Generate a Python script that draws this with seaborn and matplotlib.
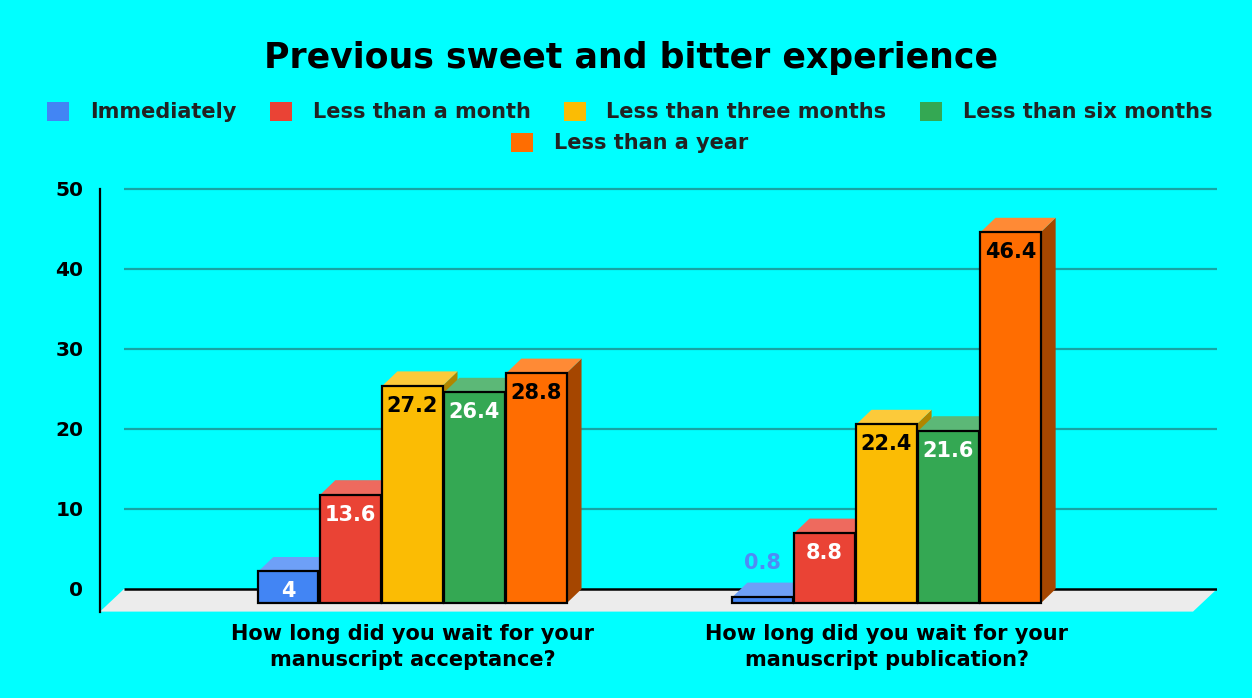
import numpy as np
import pandas as pd
import matplotlib.pyplot as plt
from matplotlib.patches import Patch, Polygon
import seaborn as sns

questions = ["How long did you wait for your\nmanuscript acceptance?",
             "How long did you wait for your\nmanuscript publication?"]
wait_times = ["Immediately", "Less than a month", "Less than three months",
              "Less than six months", "Less than a year"]
acceptance = [4, 13.6, 27.2, 26.4, 28.8]
publication = [0.8, 8.8, 22.4, 21.6, 46.4]
y_ticks = [0, 10, 20, 30, 40, 50]

colors = ["#4285f4", "#ea4335", "#fbbc04", "#34a853", "#ff6d01"]
top_colors = ["#6ea0f7", "#ee6a5e", "#fcca3a", "#5cb877", "#ff8a35"]
side_colors = ["#2a5cb0", "#a42e25", "#b08600", "#247538", "#a54600"]
label_colors = ["white", "white", "black", "white", "black"]

df = pd.DataFrame({
    "question": np.repeat(questions, len(wait_times)),
    "wait": wait_times * len(questions),
    "value": acceptance + publication,
})

BG = "#00ffff"
GRID = "#17a4a4"

sns.set_style("white")
plt.rcParams["font.family"] = ["DejaVu Sans"]
plt.rcParams["font.weight"] = "bold"

fig = plt.figure(figsize=(12.52, 6.98), dpi=100, facecolor=BG)
# axes box in pixels: left 100, right 1217, bottom 612, top 180
ax = fig.add_axes([100 / 1252, 86 / 698, 1117 / 1252, 432 / 698])
ax.set_facecolor(BG)

sns.barplot(data=df, x="question", y="value", hue="wait", hue_order=wait_times,
            palette=colors, saturation=1, width=0.654, gap=0.03, errorbar=None,
            edgecolor="black", linewidth=1.6, legend=False, ax=ax)

xlim = (-0.659, 1.697)
ylim = (-2.875, 51.125)
ax.set_xlim(*xlim)
ax.set_ylim(*ylim)

# depth of the fake 3d look, in data units
px_x = (xlim[1] - xlim[0]) / 1117
px_y = (ylim[1] - ylim[0]) / 432
dx = 15 * px_x
dy = 14.4 * px_y
back_left = xlim[0] + 24 * px_x

# back wall grid + floor
for v in y_ticks[1:]:
    ax.hlines(v, back_left, xlim[1], color=GRID, lw=1.6, zorder=0.5)
floor = Polygon([(xlim[0], ylim[0] + 0.05), (back_left, 0), (xlim[1], 0),
                 (xlim[1] - 24 * px_x, ylim[0] + 0.05)],
                closed=True, facecolor="#ececec", edgecolor="none", zorder=1)
ax.add_patch(floor)
ax.hlines(0, back_left, xlim[1], color="black", lw=1.8, zorder=1.2)

for i, cont in enumerate(ax.containers):
    for rect in cont:
        rect.set_y(rect.get_y() - dy)
        rect.set_zorder(2 + i * 0.1 + 0.05)
        x0 = rect.get_x()
        x1 = x0 + rect.get_width()
        yb = rect.get_y()
        yt = yb + rect.get_height()
        top = Polygon([(x0, yt), (x0 + dx, yt + dy), (x1 + dx, yt + dy), (x1, yt)],
                      closed=True, facecolor=top_colors[i], edgecolor="none",
                      zorder=2 + i * 0.1)
        side = Polygon([(x1, yb), (x1 + dx, yb + dy), (x1 + dx, yt + dy), (x1, yt)],
                       closed=True, facecolor=side_colors[i], edgecolor="none",
                       zorder=2 + i * 0.1)
        ax.add_patch(side)
        ax.add_patch(top)

        val = rect.get_height()
        xc = x0 + rect.get_width() / 2
        if val < 2:
            ax.annotate(f"{val:g}", (xc, yt), xytext=(0, 34), textcoords="offset pixels",
                        ha="center", va="center", fontsize=15, fontweight="bold",
                        color="#4f8bf5", zorder=5)
        else:
            ax.annotate(f"{val:g}", (xc, yt), xytext=(0, -20), textcoords="offset pixels",
                        ha="center", va="center", fontsize=15, fontweight="bold",
                        color=label_colors[i], zorder=5)

ax.set_yticks(y_ticks)
ax.set_xlabel("")
ax.set_ylabel("")
for s in ["top", "right", "bottom"]:
    ax.spines[s].set_visible(False)
ax.spines["left"].set_bounds(ylim[0], 50)
ax.spines["left"].set_color("black")
ax.spines["left"].set_linewidth(1.6)
ax.tick_params(axis="y", length=0, pad=12, labelsize=14.5, labelcolor="black")
ax.tick_params(axis="x", length=0, pad=9, labelsize=15, labelcolor="black")
for lab in ax.get_xticklabels() + ax.get_yticklabels():
    lab.set_fontweight("bold")
for lab in ax.get_xticklabels():
    lab.set_linespacing(1.35)

# legend in two rows, centered
handles = [Patch(facecolor=c, edgecolor="none", label=l) for c, l in zip(colors, wait_times)]
leg_kw = dict(loc="center", frameon=False, prop={"weight": "bold", "size": 15},
              labelcolor="#222222", handlelength=1.05, handleheight=1.05,
              handletextpad=1.0, columnspacing=1.6)
fig.legend(handles=handles[:4], ncol=4, bbox_to_anchor=(0.503, 1 - 112 / 698), **leg_kw)
fig.legend(handles=handles[4:], ncol=1, bbox_to_anchor=(0.503, 1 - 143 / 698), **leg_kw)

fig.text(0.504, 1 - 58 / 698, "Previous sweet and bitter experience",
         ha="center", va="center", fontsize=25, fontweight="bold", color="black")

plt.savefig("out.png", dpi=100, facecolor=BG)
